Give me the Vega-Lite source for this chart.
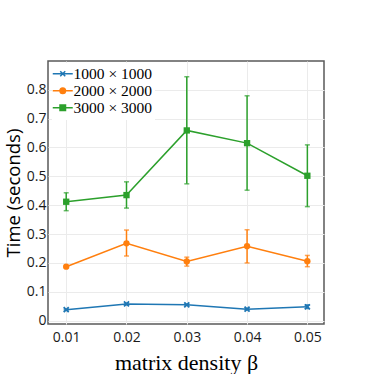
{
  "$schema": "https://vega.github.io/schema/vega-lite/v6.json",
  "autosize": {"type": "none"},
  "width": 276,
  "height": 263,
  "padding": {"left": 48, "top": 61, "right": 50, "bottom": 50},
  "background": "white",
  "config": {
    "view": {"stroke": "#5a5a5a", "strokeWidth": 1.5},
    "axis": {
      "domain": false,
      "ticks": false,
      "grid": true,
      "gridColor": "#ebebeb",
      "gridWidth": 1,
      "labelOverlap": false,
      "labelFont": "Open Sans",
      "labelFontSize": 14,
      "labelColor": "#1a1a1a",
      "titleColor": "#000000"
    },
    "axisY": {
      "format": "~g",
      "labelOverlap": false,
      "labelPadding": 2,
      "titleFont": "Open Sans",
      "titleFontSize": 18.5,
      "titleFontWeight": "normal",
      "titleX": -25
    }
  },
  "data": {
    "values": [
      {"series": "1000 × 1000", "beta": 0.01, "time": 0.038, "lo": 0.036, "hi": 0.040},
      {"series": "1000 × 1000", "beta": 0.02, "time": 0.058, "lo": 0.055, "hi": 0.061},
      {"series": "1000 × 1000", "beta": 0.03, "time": 0.055, "lo": 0.053, "hi": 0.057},
      {"series": "1000 × 1000", "beta": 0.04, "time": 0.040, "lo": 0.038, "hi": 0.042},
      {"series": "1000 × 1000", "beta": 0.05, "time": 0.048, "lo": 0.042, "hi": 0.055},
      {"series": "2000 × 2000", "beta": 0.01, "time": 0.187, "lo": 0.184, "hi": 0.190},
      {"series": "2000 × 2000", "beta": 0.02, "time": 0.268, "lo": 0.224, "hi": 0.314},
      {"series": "2000 × 2000", "beta": 0.03, "time": 0.205, "lo": 0.189, "hi": 0.220},
      {"series": "2000 × 2000", "beta": 0.04, "time": 0.258, "lo": 0.200, "hi": 0.315},
      {"series": "2000 × 2000", "beta": 0.05, "time": 0.206, "lo": 0.187, "hi": 0.226},
      {"series": "3000 × 3000", "beta": 0.01, "time": 0.412, "lo": 0.381, "hi": 0.443},
      {"series": "3000 × 3000", "beta": 0.02, "time": 0.435, "lo": 0.390, "hi": 0.481},
      {"series": "3000 × 3000", "beta": 0.03, "time": 0.659, "lo": 0.474, "hi": 0.845},
      {"series": "3000 × 3000", "beta": 0.04, "time": 0.615, "lo": 0.452, "hi": 0.779},
      {"series": "3000 × 3000", "beta": 0.05, "time": 0.502, "lo": 0.395, "hi": 0.609}
    ]
  },
  "encoding": {
    "x": {
      "field": "beta",
      "type": "quantitative",
      "scale": {"domain": [0.00698, 0.05276], "nice": false, "zero": false},
      "axis": {
        "values": [0.01, 0.02, 0.03, 0.04, 0.05],
        "format": ".2f",
        "labelOverlap": false,
        "labelPadding": 6,
        "title": "matrix density β",
        "titleFont": "Liberation Serif",
        "titleFontSize": 22,
        "titleFontWeight": "normal",
        "titlePadding": 8
      }
    },
    "color": {
      "field": "series",
      "type": "nominal",
      "scale": {"domain": ["1000 × 1000", "2000 × 2000", "3000 × 3000"], "range": ["#1f77b4", "#ff7f0e", "#2ca02c"]},
      "legend": {
        "orient": "none",
        "legendX": 4,
        "legendY": 2,
        "title": null,
        "padding": 3,
        "fillColor": "white",
        "symbolSize": 100,
        "symbolStrokeWidth": 1.5,
        "rowPadding": -4.5,
        "labelOffset": 3,
        "labelFont": "Liberation Serif",
        "labelFontSize": 15.5,
        "labelColor": "#000000",
        "encode": {
          "symbols": {
            "update": {
              "shape": {"signal": "datum.value == '1000 × 1000' ? 'M-2,0H2M-0.5,-0.5L0.5,0.5M-0.5,0.5L0.5,-0.5' : datum.value == '2000 × 2000' ? 'M-2,0H2M-0.55,0A0.55,0.55 0 1,0 0.55,0A0.55,0.55 0 1,0 -0.55,0Z' : 'M-2,0H2M-0.55,-0.55H0.55V0.55H-0.55Z'"},
              "fill": {"signal": "scale('color', datum.value)"},
              "stroke": {"signal": "scale('color', datum.value)"},
              "strokeWidth": {"value": 1.5},
              "opacity": {"value": 1}
            }
          }
        }
      }
    }
  },
  "layer": [
    {
      "mark": {"type": "rule", "strokeWidth": 1.5},
      "encoding": {
        "y": {
          "field": "lo",
          "type": "quantitative",
          "scale": {"domain": [-0.0115, 0.8995], "nice": false, "zero": false},
          "axis": {"title": "Time (seconds)", "values": [0, 0.1, 0.2, 0.3, 0.4, 0.5, 0.6, 0.7, 0.8]}
        },
        "y2": {"field": "hi"}
      }
    },
    {
      "mark": {"type": "tick", "orient": "horizontal", "size": 5, "thickness": 1.5},
      "encoding": {"y": {"field": "lo", "type": "quantitative", "axis": {"title": "Time (seconds)", "values": [0, 0.1, 0.2, 0.3, 0.4, 0.5, 0.6, 0.7, 0.8]}}}
    },
    {
      "mark": {"type": "tick", "orient": "horizontal", "size": 5, "thickness": 1.5},
      "encoding": {"y": {"field": "hi", "type": "quantitative", "axis": {"title": "Time (seconds)", "values": [0, 0.1, 0.2, 0.3, 0.4, 0.5, 0.6, 0.7, 0.8]}}}
    },
    {
      "mark": {"type": "line", "strokeWidth": 1.5},
      "encoding": {"y": {"field": "time", "type": "quantitative", "axis": {"title": "Time (seconds)", "values": [0, 0.1, 0.2, 0.3, 0.4, 0.5, 0.6, 0.7, 0.8]}}}
    },
    {
      "transform": [{"filter": "datum.series == '1000 × 1000'"}],
      "mark": {"type": "point", "filled": true, "opacity": 1, "size": 40, "shape": "M-1,-0.6L-0.6,-1L0,-0.4L0.6,-1L1,-0.6L0.4,0L1,0.6L0.6,1L0,0.4L-0.6,1L-1,0.6L-0.4,0Z"},
      "encoding": {"y": {"field": "time", "type": "quantitative", "axis": {"title": "Time (seconds)", "values": [0, 0.1, 0.2, 0.3, 0.4, 0.5, 0.6, 0.7, 0.8]}}}
    },
    {
      "transform": [{"filter": "datum.series == '2000 × 2000'"}],
      "mark": {"type": "point", "filled": true, "opacity": 1, "size": 40, "shape": "circle"},
      "encoding": {"y": {"field": "time", "type": "quantitative", "axis": {"title": "Time (seconds)", "values": [0, 0.1, 0.2, 0.3, 0.4, 0.5, 0.6, 0.7, 0.8]}}}
    },
    {
      "transform": [{"filter": "datum.series == '3000 × 3000'"}],
      "mark": {"type": "point", "filled": true, "opacity": 1, "size": 40, "shape": "square"},
      "encoding": {"y": {"field": "time", "type": "quantitative", "axis": {"title": "Time (seconds)", "values": [0, 0.1, 0.2, 0.3, 0.4, 0.5, 0.6, 0.7, 0.8]}}}
    }
  ]
}
